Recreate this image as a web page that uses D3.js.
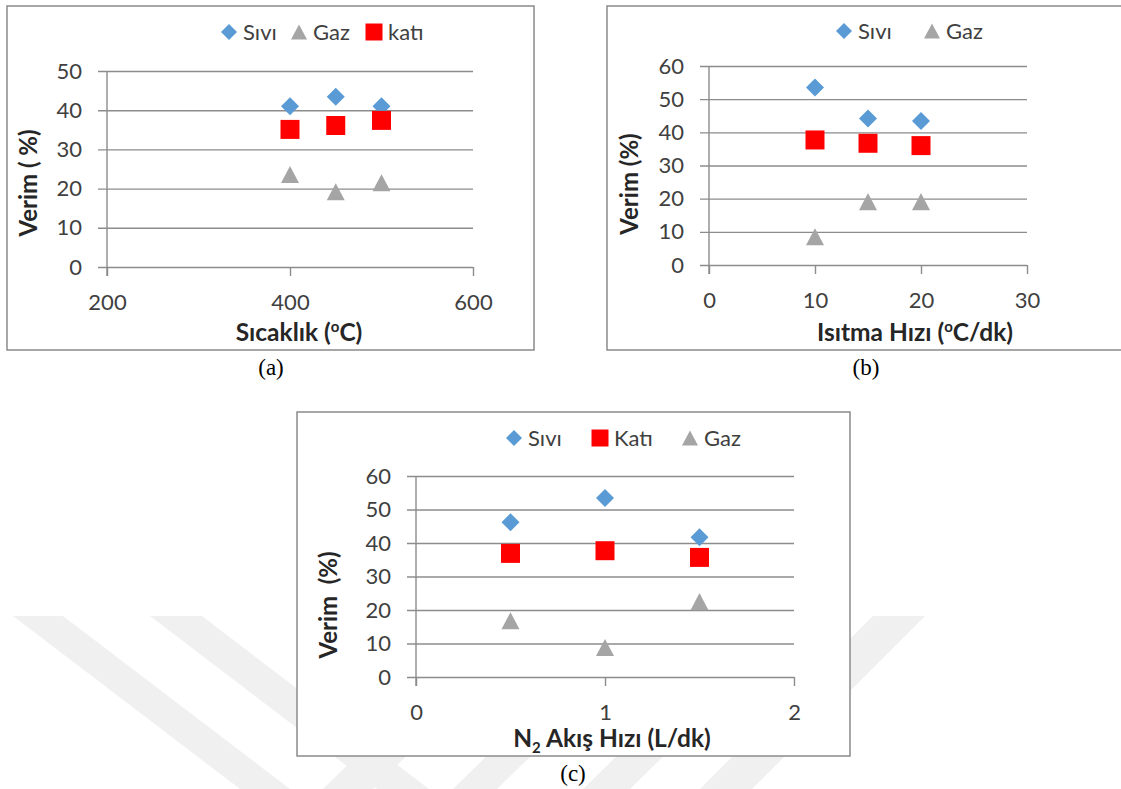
<!DOCTYPE html>
<html>
<head>
<meta charset="utf-8">
<script src="https://cdn.jsdelivr.net/npm/d3@7"></script>
<style>
  body { margin: 0; background: #fff; }
  svg { display: block; }
</style>
</head>
<body>
<svg id="fig" width="1121" height="789"></svg>
<script>
/* global d3 */

// (a) sicaklik
const tempX = [400, 450, 500]
const tempSivi = [41.0, 43.4, 41.0]
const tempGaz = [23.6, 19.2, 21.5]
const tempKati = [35.1, 36.1, 37.4]
const tempXTicks = [200, 400, 600]
const tempYTicks = [0, 10, 20, 30, 40, 50]

// (b) isitma hizi
const rateX = [10, 15, 20]
const rateSivi = [53.5, 44.2, 43.4]
const rateGaz = [8.5, 19.1, 19.1]
const rateKati = [37.7, 36.7, 36.0]
const rateXTicks = [0, 10, 20, 30]
const rateYTicks = [0, 10, 20, 30, 40, 50, 60]

// (c) N2 akis hizi
const flowX = [0.5, 1, 1.5]
const flowSivi = [46.2, 53.4, 41.7]
const flowKati = [36.9, 37.7, 35.7]
const flowGaz = [16.8, 8.8, 22.5]
const flowXTicks = [0, 1, 2]
const flowYTicks = [0, 10, 20, 30, 40, 50, 60]

const blue = '#5b9bd5'
const red = '#ff0000'
const grey = '#a5a5a5'
const gridColor = '#8c8c8c'
const sans = 'Lato, "Open Sans", sans-serif'
const serif = '"Liberation Serif", "Times New Roman", serif'

// excel style markers, centred on their bounding box
const diamond = {
  draw(ctx, size) {
    const r = Math.sqrt(size) / 2
    ctx.moveTo(0, -r); ctx.lineTo(r, 0); ctx.lineTo(0, r); ctx.lineTo(-r, 0); ctx.closePath()
  }
}
const square = {
  draw(ctx, size) {
    const r = Math.sqrt(size) / 2
    ctx.rect(-r, -r, 2 * r, 2 * r)
  }
}
const triangle = {
  draw(ctx, size) {
    const r = Math.sqrt(size) / 2
    ctx.moveTo(0, -r * 0.95); ctx.lineTo(r, r * 0.95); ctx.lineTo(-r, r * 0.95); ctx.closePath()
  }
}
const markerSize = { diamond: 18, square: 19, triangle: 18 }
const shapes = { diamond, square, triangle }

const svg = d3.select('#fig')

// faint watermark behind the lower panel
const mark = svg.append('g').attr('fill', '#f0f0f0')
const stripes = [
  [[13, 616], [63, 616], [290, 789], [240, 789]],
  [[150, 616], [202, 616], [429, 789], [377, 789]],
  [[873, 616], [925, 616], [752, 789], [700, 789]],
  [[500, 616], [548, 616], [373, 789], [323, 789]],
  [[630, 616], [675, 616], [497, 789], [453, 789]],
  [[760, 616], [807, 616], [630, 789], [583, 789]]
]
mark.selectAll('path').data(stripes).join('path')
  .attr('d', d => d3.line()(d) + 'Z')

function drawPanel(p) {
  const g = svg.append('g')
  g.append('rect')
    .attr('x', p.box[0]).attr('y', p.box[1])
    .attr('width', p.box[2] - p.box[0]).attr('height', p.box[3] - p.box[1])
    .attr('fill', '#fff').attr('stroke', '#8a8a8a').attr('stroke-width', 1.5)

  const x = d3.scaleLinear().domain(d3.extent(p.xTicks)).range([p.left, p.right])
  const y = d3.scaleLinear().domain(d3.extent(p.yTicks)).range([p.bottom, p.top])

  const yAxis = g.append('g')
    .attr('transform', `translate(${p.left - 9},0)`)
    .call(d3.axisLeft(y).tickValues(p.yTicks).tickSize(-(p.right - p.left + 9)).tickPadding(16))
  const xAxis = g.append('g')
    .attr('transform', `translate(0,${p.bottom})`)
    .call(d3.axisBottom(x).tickValues(p.xTicks).tickFormat(d3.format('~g')).tickSize(9).tickPadding(18))
  for (const a of [yAxis, xAxis]) {
    a.select('.domain').remove()
    a.selectAll('line').attr('stroke', gridColor).attr('stroke-width', 1.4)
    a.selectAll('text').attr('fill', '#404040')
      .style('font-family', sans).style('font-size', '22px')
  }
  g.append('line')
    .attr('x1', p.left).attr('x2', p.left)
    .attr('y1', y(d3.max(p.yTicks))).attr('y2', p.bottom + 9)
    .attr('stroke', gridColor).attr('stroke-width', 1.4)

  const sym = d3.symbol()
  for (const s of p.series) {
    g.append('g').selectAll('path')
      .data(s.values.map((v, i) => [p.xs[i], v]))
      .join('path')
      .attr('transform', d => `translate(${x(d[0])},${y(d[1])})`)
      .attr('d', sym.type(shapes[s.shape]).size(markerSize[s.shape] ** 2)())
      .attr('fill', s.color)
  }

  // legend
  const leg = g.append('g')
  for (const item of p.legend) {
    const s = p.series.find(d => d.name === item.name)
    leg.append('path')
      .attr('transform', `translate(${item.x},${p.legendY})`)
      .attr('d', d3.symbol().type(shapes[s.shape]).size((markerSize[s.shape] - 2) ** 2)())
      .attr('fill', s.color)
    leg.append('text')
      .attr('x', item.x + 14).attr('y', p.legendY).attr('dy', '0.36em')
      .style('font-family', sans).style('font-size', '22px').attr('fill', '#404040')
      .text(item.name)
  }

  // axis titles
  const xt = g.append('text')
    .attr('x', p.xTitlePos[0]).attr('y', p.xTitlePos[1]).attr('dy', '0.36em')
    .attr('text-anchor', 'middle')
    .style('font-family', sans).style('font-size', '24.5px').style('font-weight', 'bold')
    .attr('fill', '#262626')
  p.xTitle(xt)
  g.append('text')
    .attr('transform', `translate(${p.yTitlePos[0]},${p.yTitlePos[1]}) rotate(-90)`)
    .attr('dy', '0.36em')
    .attr('text-anchor', 'middle')
    .style('font-family', sans).style('font-size', '24px').style('font-weight', 'bold')
    .attr('fill', '#262626')
    .text(p.yTitle)

  g.append('text')
    .attr('x', p.captionPos[0]).attr('y', p.captionPos[1]).attr('dy', '0.34em')
    .attr('text-anchor', 'middle')
    .style('font-family', serif).style('font-size', '23px')
    .attr('fill', '#000')
    .text(p.caption)
}

function degTitle(before, after) {
  return t => {
    t.append('tspan').text(before)
    t.append('tspan').style('font-size', '15px').attr('dy', -9).text('o')
    t.append('tspan').attr('dy', 9).text(after)
  }
}

drawPanel({
  box: [7, 6, 534, 350],
  left: 107, right: 473, top: 71, bottom: 267,
  xTicks: tempXTicks, yTicks: tempYTicks, xs: tempX,
  series: [
    { name: 'Sıvı', values: tempSivi, color: blue, shape: 'diamond' },
    { name: 'Gaz', values: tempGaz, color: grey, shape: 'triangle' },
    { name: 'katı', values: tempKati, color: red, shape: 'square' }
  ],
  legendY: 32,
  legend: [{ name: 'Sıvı', x: 229 }, { name: 'Gaz', x: 299 }, { name: 'katı', x: 374 }],
  xTitlePos: [299, 332],
  xTitle: degTitle('Sıcaklık (', 'C)'),
  yTitlePos: [28, 183], yTitle: 'Verim ( %)',
  captionPos: [271, 367], caption: '(a)'
})

drawPanel({
  box: [607, 6, 1126, 350],
  left: 709, right: 1027, top: 66, bottom: 265,
  xTicks: rateXTicks, yTicks: rateYTicks, xs: rateX,
  series: [
    { name: 'Sıvı', values: rateSivi, color: blue, shape: 'diamond' },
    { name: 'Gaz', values: rateGaz, color: grey, shape: 'triangle' },
    { name: 'Katı', values: rateKati, color: red, shape: 'square' }
  ],
  legendY: 31,
  legend: [{ name: 'Sıvı', x: 844 }, { name: 'Gaz', x: 932 }],
  xTitlePos: [915, 332],
  xTitle: degTitle('Isıtma Hızı (', 'C/dk)'),
  yTitlePos: [629, 184], yTitle: 'Verim (%)',
  captionPos: [866, 367], caption: '(b)'
})

drawPanel({
  box: [297, 412, 850, 756],
  left: 416, right: 794, top: 476, bottom: 677,
  xTicks: flowXTicks, yTicks: flowYTicks, xs: flowX,
  series: [
    { name: 'Sıvı', values: flowSivi, color: blue, shape: 'diamond' },
    { name: 'Katı', values: flowKati, color: red, shape: 'square' },
    { name: 'Gaz', values: flowGaz, color: grey, shape: 'triangle' }
  ],
  legendY: 438,
  legend: [{ name: 'Sıvı', x: 514 }, { name: 'Katı', x: 600 }, { name: 'Gaz', x: 690 }],
  xTitlePos: [612, 738],
  xTitle: t => {
    t.append('tspan').text('N')
    t.append('tspan').style('font-size', '15px').attr('dy', 6).text('2')
    t.append('tspan').attr('dy', -6).text(' Akış Hızı (L/dk)')
  },
  yTitlePos: [328, 605], yTitle: 'Verim\u00a0 (%)',
  captionPos: [573, 773], caption: '(c)'
})
</script>
</body>
</html>
